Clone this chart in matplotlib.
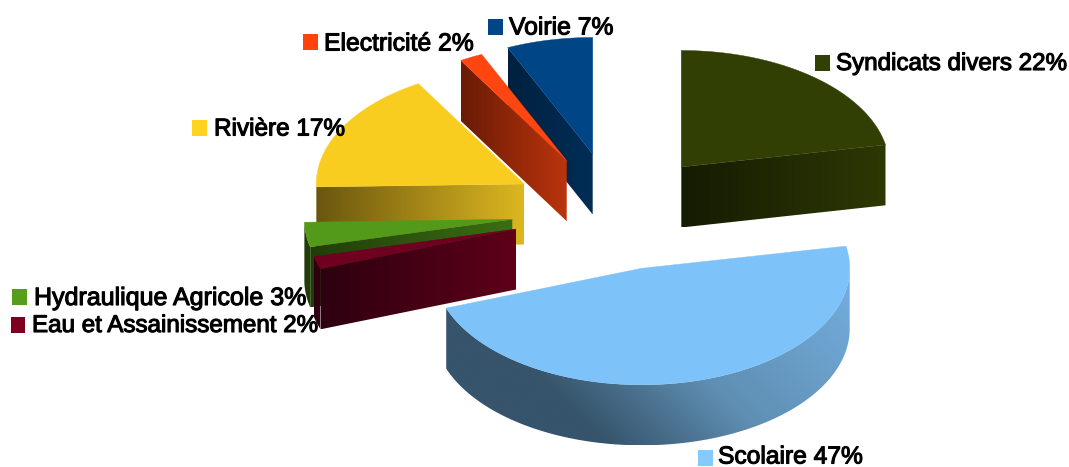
import numpy as np
import matplotlib
matplotlib.use("Agg")
import matplotlib.pyplot as plt
import matplotlib.patheffects as pe
from matplotlib.colors import LinearSegmentedColormap
from matplotlib.patches import Polygon, Rectangle

# Data: slice shares (clockwise from 12 o'clock)
names = ["Syndicats divers", "Scolaire", "Eau et Assainissement", "Hydraulique Agricole",
         "Rivière", "Electricité", "Voirie"]
shares = [21.95, 47.5, 1.75, 3.4, 16.9, 1.8, 6.7]
labels_pct = [22, 47, 2, 3, 17, 2, 7]

# Styles
top_colors = ["#323f04", "#7dc2f8", "#6f001f", "#539a1a", "#f9cd20", "#ff4510", "#004586"]
swatch_colors = ["#314004", "#83caff", "#7e0021", "#579d1c", "#ffd320", "#ff420e", "#004586"]
wall_stops = [
    [(0, "#151b02"), (1, "#2d3804")],
    [(0, "#36546b"), (0.17, "#36546b"), (0.5, "#5f8fb3"), (1, "#74afdf")],
    [(0, "#2e0010"), (1, "#5e0019")],
    [(0, "#213d0a"), (1, "#3b6e13")],
    [(0, "#6b560f"), (1, "#dcb720")],
    [(0, "#691b05"), (1, "#bb340d")],
    [(0, "#00213f"), (1, "#002d56")],
]
grad_dirs = [(1, 0), (1, -1), (1, 0), (1, 0), (1, 0), (1, 0), (1, 0)]

# Layout (pixels)
W, H = 1069, 467
RX, RY, DEPTH = 208.0, 116.5, 60.5
apexes = [(681.3, 167), (641.7, 268.3), (516, 229), (512.3, 219.3),
          (524.3, 184), (566.7, 160.7), (592.7, 154)]
draw_order = [6, 5, 4, 3, 2, 0, 1]
swatches = [(815, 55), (698, 450), (10.7, 317), (12, 289), (192, 120), (303, 34), (488, 19)]
text_pos = [(836, 64), (718, 456.5), (32, 326), (34, 298), (214, 129.5), (324, 43.5), (509, 27.5)]
font_sizes = [17.4, 17.7, 17.4, 18.0, 17.5, 17.8, 17.8]

fig = plt.figure(figsize=(W / 100, H / 100), dpi=100, facecolor="white")
ax = fig.add_axes([0, 0, 1, 1])
ax.axis("off")


def pts(apex, angles, dy=0.0):
    a = np.radians(angles)
    return np.column_stack([apex[0] + RX * np.cos(a), apex[1] - RY * np.sin(a) + dy])


def gradient_poly(poly, stops, direction, z):
    x0, y0 = poly.min(axis=0)
    x1, y1 = poly.max(axis=0)
    xs = np.linspace(x0, x1, 300)
    ys = np.linspace(y0, y1, 120)
    X, Y = np.meshgrid(xs, ys)
    T = X * direction[0] + Y * direction[1]
    C = poly[:, 0] * direction[0] + poly[:, 1] * direction[1]
    T = (T - C.min()) / (C.max() - C.min() + 1e-9)
    cmap = LinearSegmentedColormap.from_list("g", stops)
    im = ax.imshow(T, cmap=cmap, vmin=0, vmax=1, extent=(x0, x1, y1, y0),
                   origin="upper", aspect="auto", zorder=z, interpolation="bilinear")
    patch = Polygon(poly, closed=True, transform=ax.transData, fc="none", ec="none")
    ax.add_patch(patch)
    im.set_clip_path(patch)


# Angles from the shares
ends = 90 - 3.6 * np.cumsum(shares)
starts = np.concatenate([[90.0], ends[:-1]])

z = 2
for i in draw_order:
    t0, t1 = starts[i], ends[i]
    apex = np.array(apexes[i], float)
    # Outer curved wall (lower half of the ellipse)
    lo, hi = None, None
    if t0 > -180:
        lo, hi = max(t1, -180.0), min(t0, 0.0)
    if lo is not None and lo < hi:
        arc = np.linspace(lo, hi, 150)
        poly = np.vstack([pts(apex, arc), pts(apex, arc[::-1], DEPTH)])
        stops = wall_stops[i] if i == 1 else [(0, wall_stops[i][0][1]), (1, wall_stops[i][0][1])]
        gradient_poly(poly, stops, grad_dirs[i], z)
        z += 1
    # Radial wall facing the viewer
    for t, cond in ((t0, np.cos(np.radians(t0)) < -1e-6), (t1, np.cos(np.radians(t1)) > 1e-6)):
        if cond:
            tip = pts(apex, [t])[0]
            poly = np.array([apex, tip, tip + [0, DEPTH], apex + [0, DEPTH]])
            gradient_poly(poly, wall_stops[i], (1, 0), z)
            z += 1
    # Top face
    arc = np.linspace(t0, t1, 200)
    face = np.vstack([apex, pts(apex, arc)])
    ax.add_patch(Polygon(face, closed=True, fc=top_colors[i], ec=top_colors[i], lw=0.3, zorder=z))
    z += 1

# Legend placed beside each slice
for i, name in enumerate(names):
    sx, sy = swatches[i]
    ax.add_patch(Rectangle((sx, sy), 14.5, 15.5, fc=swatch_colors[i], ec="none", zorder=100))
    tx, ty = text_pos[i]
    ax.text(tx, ty, f"{name} {labels_pct[i]}%", family="Liberation Sans", fontsize=font_sizes[i],
            color="black", va="center", ha="left", zorder=101,
            path_effects=[pe.withStroke(linewidth=0.8, foreground="black")])

ax.set_xlim(0, W)
ax.set_ylim(H, 0)
fig.savefig("out.png", dpi=100, facecolor="white")
